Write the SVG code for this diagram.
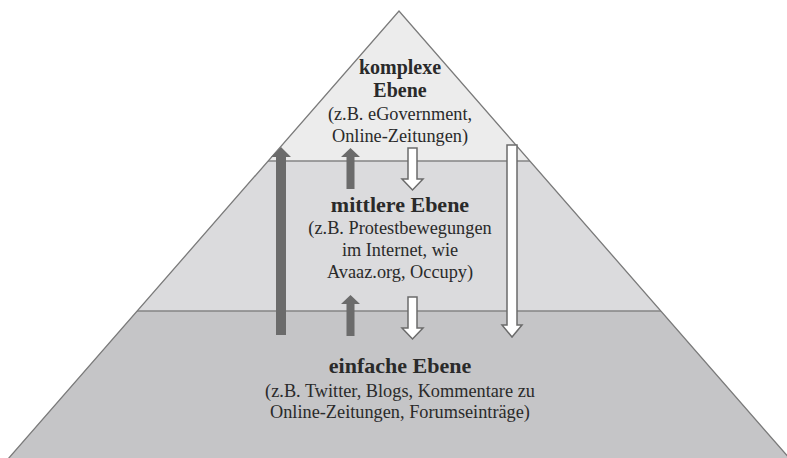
<svg xmlns="http://www.w3.org/2000/svg" width="787" height="458" viewBox="0 0 787 458">
<style>
.tier{stroke:none}
.edge{fill:none;stroke:#7a7a7a;stroke-width:1.3}
.sep{stroke:#858585;stroke-width:1.3}
.t{font-family:"Liberation Serif","Times New Roman",serif;text-anchor:middle;fill:#2a2a2a}
.b{font-weight:bold}
.up{fill:#6b6b6b;stroke:none}
.down{fill:#ffffff;stroke:#6b6b6b;stroke-width:1.5;stroke-linejoin:miter}
</style>
<rect width="787" height="458" fill="#ffffff"/>
<g id="einfache-ebene">
<polygon class="tier" fill="#c5c5c7" points="137.1,311 660.9,311 790,459 8,459"/>
<text class="t b" x="400" y="373" font-size="22">einfache Ebene</text>
<text class="t" x="400" y="397" font-size="18.3">(z.B. Twitter, Blogs, Kommentare zu</text>
<text class="t" x="400" y="418" font-size="18.3">Online-Zeitungen, Forumseinträge)</text>
</g>
<g id="mittlere-ebene">
<polygon class="tier" fill="#dbdbdd" points="268,161 530,161 660.9,311 137.1,311"/>
<text class="t b" x="400" y="212" font-size="22">mittlere Ebene</text>
<text class="t" x="400" y="234" font-size="18.3">(z.B. Protestbewegungen</text>
<text class="t" x="400" y="256" font-size="18.3">im Internet, wie</text>
<text class="t" x="400" y="278" font-size="18.3">Avaaz.org, Occupy)</text>
</g>
<g id="komplexe-ebene">
<polygon class="tier" fill="#ececec" points="399,11 530,161 268,161"/>
<text class="t b" x="400" y="74" font-size="20">komplexe</text>
<text class="t b" x="400" y="97" font-size="20">Ebene</text>
<text class="t" x="400" y="120" font-size="18.3">(z.B. eGovernment,</text>
<text class="t" x="400" y="142" font-size="18.3">Online-Zeitungen)</text>
</g>
<g id="outline">
<line class="sep" x1="268" y1="161" x2="530" y2="161"/>
<line class="sep" x1="137.1" y1="311" x2="660.9" y2="311"/>
<polyline class="edge" points="8,459 399,11 790,459"/>
</g>
<g id="connectors">
<path class="up" d="M276,335 V157 H271 L281,147 L291,157 H286 V335 Z"/>
<path class="up" d="M346.5,189 V157 H341 L350.5,148 L360,157 H354.5 V189 Z"/>
<path class="up" d="M346.5,336 V304 H341 L350.5,295 L360,304 H354.5 V336 Z"/>
<path class="down" d="M408,148 H417 V179 H423 L412.5,190 L402,179 H408 Z"/>
<path class="down" d="M408,297 H417 V328 H423 L412.5,339 L402,328 H408 Z"/>
<path class="down" d="M507,145 H517 V325 H522 L512,337 L502,325 H507 Z"/>
</g>
</svg>
